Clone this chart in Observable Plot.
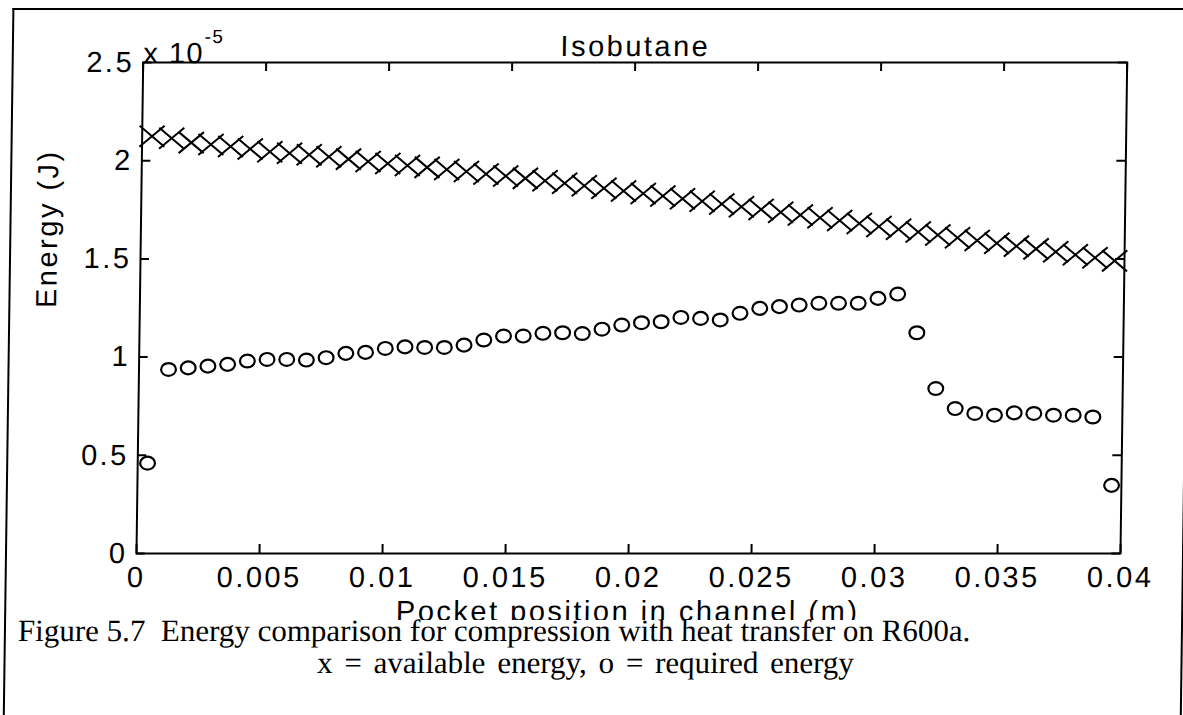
<!DOCTYPE html>
<html>
<head>
<meta charset="utf-8">
<script src="https://cdn.jsdelivr.net/npm/d3@7"></script>
<script src="https://cdn.jsdelivr.net/npm/@observablehq/plot@0.6"></script>
<style>
  html, body { margin: 0; padding: 0; background: #fff; width: 1183px; height: 715px; overflow: hidden; }
  #page { position: absolute; left: 0; top: 0; width: 1183px; height: 715px; transform-origin: 0 553px; transform: skewX(-0.78deg); }
  #border { position: absolute; left: 5px; top: 8px; width: 1175px; height: 800px; border: 2px solid #000; border-bottom: none; }
  #chart { position: absolute; left: 0; top: 0; }
  .cap { position: absolute; font-family: "Liberation Serif", "Times New Roman", serif; font-size: 31px; line-height: 30px; color: #000; white-space: pre; }
</style>
</head>
<body>
<div id="page">
  <div id="border"></div>
  <div id="chart"></div>
  <div class="cap" id="cap1" style="left:19px; top:616px;"></div>
  <div class="cap" id="cap2" style="left:287px; width:600px; text-align:center; top:648px; word-spacing:4px;"></div>
</div>
<script>
// ---- data (energies in units of 1e-5 J, as on the axis) ----
const pocketPosition = [0.0004, 0.0012, 0.0020, 0.0028, 0.0036, 0.0044, 0.0052, 0.0060, 0.0068, 0.0076,
  0.0084, 0.0092, 0.0100, 0.0108, 0.0116, 0.0124, 0.0132, 0.0140, 0.0148, 0.0156,
  0.0164, 0.0172, 0.0180, 0.0188, 0.0196, 0.0204, 0.0212, 0.0220, 0.0228, 0.0236,
  0.0244, 0.0252, 0.0260, 0.0268, 0.0276, 0.0284, 0.0292, 0.0300, 0.0308, 0.0316,
  0.0324, 0.0332, 0.0340, 0.0348, 0.0356, 0.0364, 0.0372, 0.0380, 0.0388, 0.0396];

const availableEnergy = [2.124, 2.114, 2.092, 2.082, 2.072, 2.060, 2.046, 2.038, 2.030, 2.020,
  2.008, 1.996, 1.986, 1.976, 1.966, 1.955, 1.945, 1.932, 1.922, 1.910,
  1.898, 1.885, 1.872, 1.860, 1.846, 1.833, 1.820, 1.806, 1.793, 1.780,
  1.766, 1.752, 1.738, 1.724, 1.709, 1.695, 1.680, 1.665, 1.651, 1.637,
  1.622, 1.608, 1.594, 1.580, 1.565, 1.551, 1.536, 1.521, 1.506, 1.490];

const requiredEnergy = [0.46, 0.937, 0.945, 0.954, 0.963, 0.980, 0.988, 0.988, 0.985, 0.997,
  1.019, 1.024, 1.044, 1.052, 1.049, 1.049, 1.061, 1.087, 1.107, 1.107,
  1.121, 1.124, 1.120, 1.142, 1.163, 1.175, 1.180, 1.202, 1.197, 1.189,
  1.223, 1.248, 1.257, 1.265, 1.274, 1.274, 1.274, 1.299, 1.321, 1.124,
  0.840, 0.738, 0.713, 0.704, 0.716, 0.713, 0.704, 0.704, 0.695, 0.347];

const xTicks = [0, 0.005, 0.01, 0.015, 0.02, 0.025, 0.03, 0.035, 0.04];
const xTickLabels = ["0", "0.005", "0.01", "0.015", "0.02", "0.025", "0.03", "0.035", "0.04"];
const yTicks = [0, 0.5, 1, 1.5, 2, 2.5];
const yTickLabels = ["0", "0.5", "1", "1.5", "2", "2.5"];

const titleText = "Isobutane";
const xLabel = "Pocket position in channel (m)";
const yLabel = "Energy (J)";
const exponentBase = "x 10";
const exponentPower = "-5";
const caption1 = "Figure 5.7  Energy comparison for compression with heat transfer on R600a.";
const caption2 = "x = available energy, o = required energy";

// ---- tables for the library ----
const avail = pocketPosition.map((x, i) => ({x, y: availableEnergy[i]}));
const req = pocketPosition.map((x, i) => ({x, y: requiredEnergy[i]}));

// ---- custom marker shapes ----
const ellipseSymbol = {
  draw(ctx, size) {
    const rx = Math.sqrt(size / Math.PI), ry = rx * 0.87, k = 0.5523;
    ctx.moveTo(rx, 0);
    ctx.bezierCurveTo(rx, ry * k, rx * k, ry, 0, ry);
    ctx.bezierCurveTo(-rx * k, ry, -rx, ry * k, -rx, 0);
    ctx.bezierCurveTo(-rx, -ry * k, -rx * k, -ry, 0, -ry);
    ctx.bezierCurveTo(rx * k, -ry, rx, -ry * k, rx, 0);
    ctx.closePath();
  }
};
const crossSymbol = {
  draw(ctx, size) {
    const w = Math.sqrt(size / Math.PI), h = w * 0.84;
    ctx.moveTo(-w, -h); ctx.lineTo(w, h);
    ctx.moveTo(-w, h); ctx.lineTo(w, -h);
  }
};

const W = 1183, H = 620, mL = 136, mR = 63, mT = 62, mB = 67;
const plotW = W - mL - mR, plotH = H - mT - mB, tickLen = 9;

const chart = Plot.plot({
  width: W, height: H,
  marginLeft: mL, marginRight: mR, marginTop: mT, marginBottom: mB,
  style: {fontFamily: "'Liberation Sans', Arial, sans-serif", fontSize: "29px", letterSpacing: "2.5px", color: "black", background: "transparent", overflow: "hidden"},
  x: {domain: [0, 0.04], label: null},
  y: {domain: [0, 2.5], label: null},
  marks: [
    Plot.frame({stroke: "black", strokeWidth: 2}),
    Plot.tickX(xTicks, {x: d => d, insetTop: plotH - tickLen, stroke: "black", strokeWidth: 2}),
    Plot.tickX(xTicks, {x: d => d, insetBottom: plotH - tickLen, stroke: "black", strokeWidth: 2}),
    Plot.tickY(yTicks, {y: d => d, insetRight: plotW - tickLen, stroke: "black", strokeWidth: 2}),
    Plot.tickY(yTicks, {y: d => d, insetLeft: plotW - tickLen, stroke: "black", strokeWidth: 2}),
    Plot.axisX({ticks: xTicks, tickSize: 0, tickPadding: 13, tickFormat: d => xTickLabels[xTicks.indexOf(d)], fill: "black"}),
    Plot.axisY({ticks: yTicks, tickSize: 0, tickPadding: 9, tickFormat: d => yTickLabels[yTicks.indexOf(d)], fill: "black"}),
    Plot.dot(avail, {x: "x", y: "y", r: 12.5, symbol: crossSymbol, stroke: "black", strokeWidth: 2, fill: "none"}),
    Plot.dot(req, {x: "x", y: "y", r: 7.4, symbol: ellipseSymbol, stroke: "black", strokeWidth: 2.2, fill: "none"}),
    Plot.text([titleText], {text: d => d, frameAnchor: "top", dy: -27, fill: "black"}),
    Plot.text([exponentBase], {text: d => d, frameAnchor: "top-left", textAnchor: "start", dy: -20, fill: "black"}),
    Plot.text([exponentPower], {text: d => d, frameAnchor: "top-left", textAnchor: "start", dx: 61, dy: -33, fontSize: 19, fill: "black"}),
    Plot.text([xLabel], {text: d => d, frameAnchor: "bottom", lineAnchor: "bottom", dy: 67, fill: "black"}),
    Plot.text([yLabel], {text: d => d, frameAnchor: "left", rotate: -90, dx: -93, fill: "black"})
  ]
});
d3.select(chart).selectAll("text")
  .filter(function () { return this.textContent === exponentBase || this.textContent === exponentPower; })
  .style("letter-spacing", "1.5px");
document.getElementById("chart").appendChild(chart);
document.getElementById("cap1").textContent = caption1;
document.getElementById("cap2").textContent = caption2;
</script>
</body>
</html>
